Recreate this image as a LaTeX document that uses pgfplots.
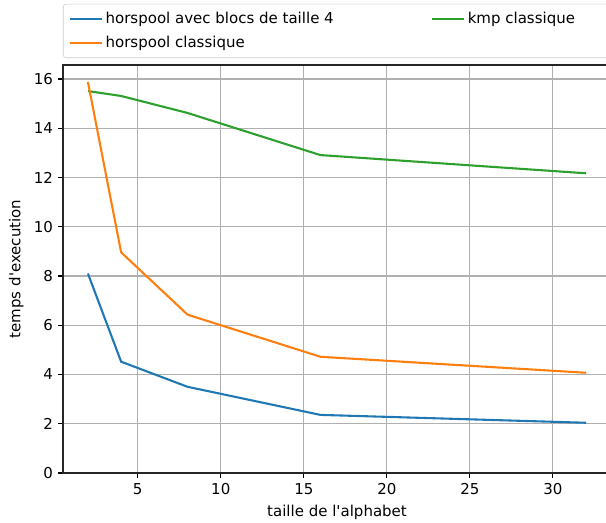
\documentclass[border=0pt]{standalone}
\usepackage{fontspec}
\setmainfont{DejaVu Sans}
\usepackage{pgfplots}
\pgfplotsset{compat=1.18}
\definecolor{mblue}{HTML}{1F77B4}
\definecolor{morange}{HTML}{FF7F0E}
\definecolor{mgreen}{HTML}{2CA02C}
\newcommand{\fs}{\fontsize{10.8}{13}\selectfont}
\begin{document}
\fs
\begin{tikzpicture}
\begin{axis}[name=ax, scale only axis, width=394.6pt, height=293.8pt,
  xmin=0.5, xmax=33.5, ymin=0, ymax=16.57,
  xtick={5,10,...,30}, ytick={0,2,...,16},
  xtick pos=bottom, ytick pos=left,
  tick align=outside, major tick length=3.5pt,
  tick style={black, line width=0.8pt},
  axis line style={line width=0.8pt, black!85},
  grid=major, grid style={color=black!31, line width=0.8pt},
  /pgf/number format/assume math mode=true,
  ticklabel style={font=\fs},
  xlabel={taille de l\textquotesingle alphabet},
  ylabel={temps d\textquotesingle execution},
  label style={font=\fs},
  legend columns=2,
  legend cell align=left,
  legend style={at={(0,1)}, anchor=south west, yshift=5pt,
    draw=black!20, rounded corners=2pt, font=\fs,
    /tikz/every even column/.append style={column sep=68pt},
    row sep=3pt, inner xsep=4pt, inner ysep=4pt},
  legend image code/.code={\draw[#1] (0pt,0pt) -- (23pt,0pt);},
]
\addplot[mblue, line width=1.5pt] coordinates {(2,8.10) (4,4.52) (8,3.50) (16,2.36) (32,2.04)};
\addlegendentry{horspool avec blocs de taille 4}
\addplot[mgreen, line width=1.5pt] coordinates {(2,15.51) (4,15.31) (8,14.62) (16,12.91) (32,12.17)};
\addlegendentry{\makebox[110pt][l]{kmp classique}}
\addplot[morange, line width=1.5pt] coordinates {(2,15.88) (4,8.96) (8,6.43) (16,4.72) (32,4.07)};
\addlegendentry{horspool classique}
\end{axis}
\pgfresetboundingbox
\path[use as bounding box] ([shift={(-45.36pt,-35.28pt)}]ax.south west) rectangle ([shift={(390.96pt,340.56pt)}]ax.south west);
\end{tikzpicture}
\end{document}
